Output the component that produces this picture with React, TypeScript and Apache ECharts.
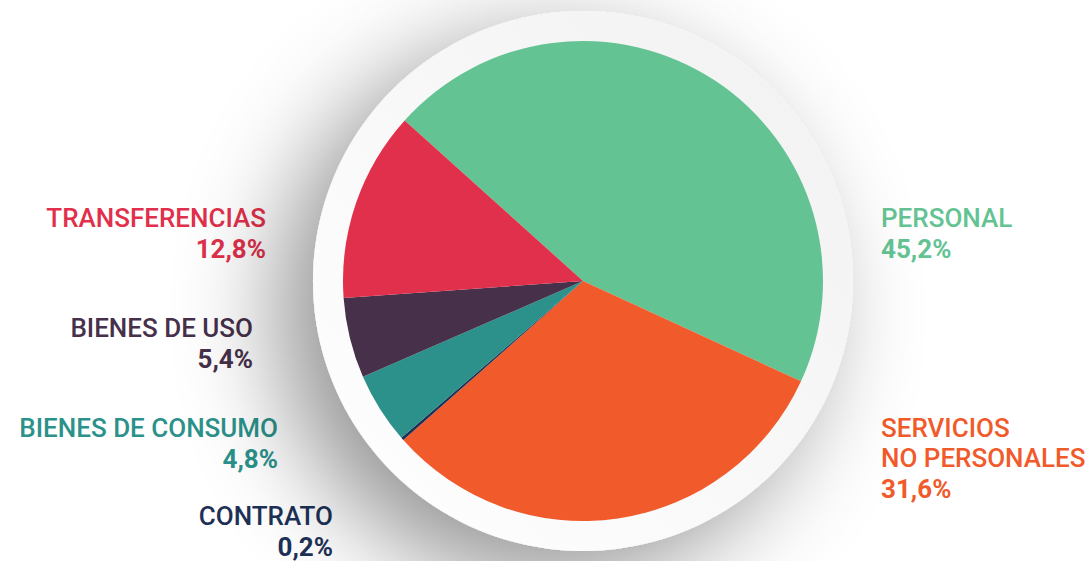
import React, { useEffect, useRef } from "react";
import * as echarts from "echarts";

const categories = ["PERSONAL", "SERVICIOS\nNO PERSONALES", "CONTRATO", "BIENES DE CONSUMO", "BIENES DE USO", "TRANSFERENCIAS"];
const values = [45.2, 31.6, 0.2, 4.8, 5.4, 12.8];
const colors = ["#64C393", "#F15A2B", "#1D3157", "#2B918A", "#46304A", "#E1304B"];

// label anchor layout: [x, y of first line center, align]
const labelLayout: [number, number, "left" | "right"][] = [
  [881, 218, "left"],
  [881, 428, "left"],
  [333, 516, "right"],
  [278, 428, "right"],
  [253, 328, "right"],
  [266, 218, "right"],
];

const fmt = (v: number) => v.toFixed(1).replace(".", ",") + "%";

export default function App() {
  const ref = useRef<HTMLDivElement>(null);
  useEffect(() => {
    document.body.style.margin = "0";
    const chart = echarts.init(ref.current!, null, { renderer: "svg" });
    const font = "Roboto, 'Noto Sans', sans-serif";
    const graphics: any[] = [];
    categories.forEach((name, i) => {
      const [x, y, align] = labelLayout[i];
      const lines = name.split("\n");
      lines.forEach((ln, j) => {
        graphics.push({
          type: "text",
          x,
          y: y + j * 30,
          style: {
            text: ln,
            fill: colors[i],
            font: `500 26px ${font}`,
            textAlign: align,
            textVerticalAlign: "middle",
          },
        });
      });
      graphics.push({
        type: "text",
        x,
        y: y + lines.length * 30 + 1,
        style: {
          text: fmt(values[i]),
          fill: colors[i],
          font: `bold 26px ${font}`,
          lineHeight: 24,
          textAlign: align,
          textVerticalAlign: "middle",
        },
      });
    });
    chart.setOption({
      animation: false,
      backgroundColor: "#ffffff",
      graphic: graphics,
      series: [
        {
          type: "pie",
          silent: true,
          z: 1,
          center: [583, 281],
          radius: [0, 270],
          label: { show: false },
          labelLine: { show: false },
          data: [
            {
              value: 1,
              itemStyle: {
                color: new echarts.graphic.LinearGradient(1, 0, 0, 1, [
                  { offset: 0, color: "#f1f1f1" },
                  { offset: 1, color: "#ffffff" },
                ]),
                shadowBlur: 100,
                shadowColor: "rgba(0,0,0,0.42)",
                shadowOffsetX: -35,
                shadowOffsetY: 30,
              },
            },
          ],
        },
        {
          type: "pie",
          z: 2,
          center: [583, 281],
          radius: [0, 240],
          startAngle: 138,
          clockwise: true,
          label: { show: false },
          labelLine: { show: false },
          itemStyle: { borderWidth: 0 },
          data: categories.map((c, i) => ({
            name: c,
            value: values[i],
            itemStyle: { color: colors[i] },
          })),
        },
      ],
    });
    return () => chart.dispose();
  }, []);
  return <div ref={ref} style={{ width: 1091, height: 561 }} />;
}
